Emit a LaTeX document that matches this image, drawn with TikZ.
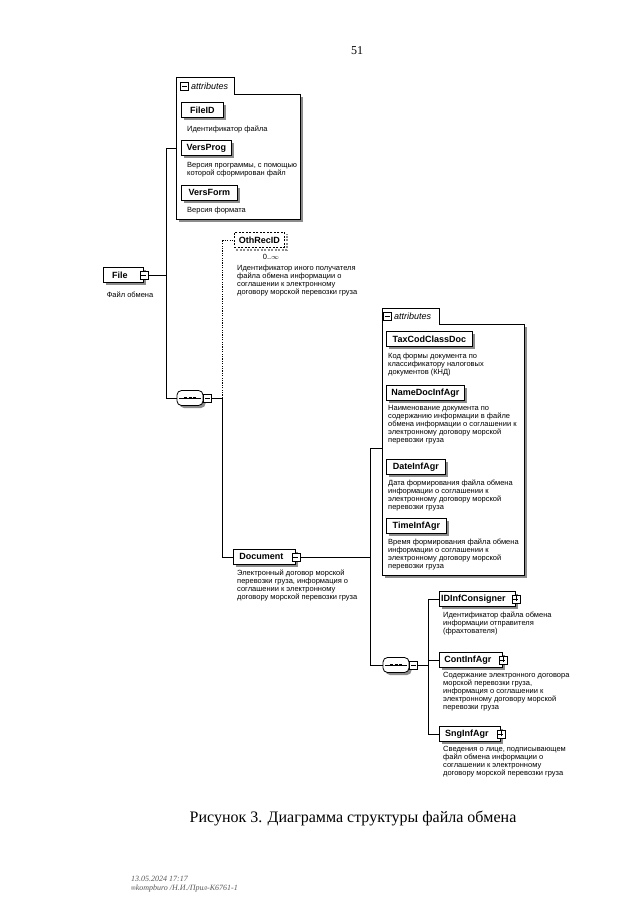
\documentclass[tikz,border=0pt]{standalone}
\usepackage{fontspec}
\setmainfont{Liberation Serif}
\newfontfamily\lsans{Liberation Sans}
\newfontfamily\djv{DejaVu Sans}
\usetikzlibrary{shadows}
\newcommand\mydesc[1]{\parbox[t]{160pt}{\raggedright #1}}
\begin{document}
\begin{tikzpicture}[x=1pt,y=-1pt,
  shad/.style={drop shadow={shadow xshift=2.5pt, shadow yshift=-2.5pt, fill=black!45, opacity=1}},
  elem/.style={draw=black, line width=0.8pt, fill=white, anchor=north west, minimum height=15pt, inner sep=0pt,
    font=\lsans\bfseries\fontsize{9}{10}\selectfont, shad},
  exp/.style={draw=black, fill=white, line width=0.5pt, minimum size=8pt, inner sep=0pt},
  expminus/.style={exp, path picture={\draw[line width=0.6pt] ([xshift=1.5pt]path picture bounding box.west) -- ([xshift=-1.5pt]path picture bounding box.east);}},
  expplus/.style={exp, path picture={\draw[line width=0.6pt] ([xshift=1.5pt]path picture bounding box.west) -- ([xshift=-1.5pt]path picture bounding box.east) ([yshift=1.5pt]path picture bounding box.south) -- ([yshift=-1.5pt]path picture bounding box.north);}},
  seq/.style={draw=black, fill=white, line width=0.8pt, rounded corners=4.5pt,
    minimum width=26pt, minimum height=15pt, inner sep=0pt, shad},
  seqline/.style={line width=0.6pt},
  seqdot/.style={line width=1.8pt},
  attrbody/.style={draw=black, line width=0.8pt, fill=white, anchor=north west, inner sep=0pt, shad},
  attrtab/.style={draw=black, line width=0.8pt, fill=white, anchor=south west, inner sep=0pt},
  attrtxt/.style={anchor=west, inner sep=0pt, font=\lsans\itshape\fontsize{9}{10}\selectfont},
  desc/.style={anchor=base west, inner sep=0pt, font=\lsans\fontsize{7.5}{8}\selectfont},
  conn/.style={line width=0.8pt, black}]
\fill[white] (0,0) rectangle (640,919);
\useasboundingbox (0,0) rectangle (640,919);

% page number
\node[font=\fontsize{12}{14}\selectfont] (pg) at (357,51) {51};

% ---------- top attributes box ----------
\node[attrbody, minimum width=124pt, minimum height=125pt] (attrA) at (176,94) {};
\node[attrtab, minimum width=58pt, minimum height=16pt] (tabA) at (176,94) {};
\draw[white, line width=1.3pt] ([xshift=0.7pt]tabA.south west) -- ([xshift=-0.7pt]tabA.south east);
\node[expminus] (tabAx) at (184,86) {};
\node[attrtxt] (tabAt) at (191,86) {attributes};

\node[elem, minimum width=42pt] (fid) at (181,102) {FileID};
\node[desc] (fidd) at (187,131.5) {\mydesc{Идентификатор файла}};
\node[elem, minimum width=50pt] (vp) at (181,140) {VersProg};
\node[desc] (vpd) at (187,167) {\mydesc{Версия программы, с помощью\\которой сформирован файл}};
\node[elem, minimum width=56pt] (vf) at (181,185) {VersForm};
\node[desc] (vfd) at (187,212.5) {\mydesc{Версия формата}};

% ---------- File ----------
\node[elem, minimum width=40pt] (file) at (103,267) {File\hspace*{7pt}};
\node[expminus] (filex) at (file.east) {};
\node[desc, anchor=base] (filed) at (130,297.5) {Файл обмена};

% ---------- OthRecID ----------
\node[draw=black, line width=0.8pt, dash pattern=on 2pt off 1.5pt, fill=white, anchor=north west, minimum height=15pt, minimum width=50pt, inner sep=0pt,
  font=\lsans\bfseries\fontsize{9}{10}\selectfont] (oth) at (234,232) {OthRecID};
\draw[black!45, line width=1.5pt, dash pattern=on 2pt off 1.5pt] ([shift={(2pt,-2pt)}]oth.south west) -- ([shift={(2pt,-2pt)}]oth.south east) -- ([shift={(2pt,-2pt)}]oth.north east);
\node[desc, anchor=base] (othm) at (271,259.5) {0..$\infty$};
\node[desc] (othd) at (237,270.5) {\mydesc{Идентификатор иного получателя\\файла обмена информации о\\соглашении к электронному\\договору морской перевозки груза}};

% ---------- sequence 1 ----------
\node[seq] (seq1) at (190,398) {};
\node[expminus] (seq1x) at ([xshift=4pt]seq1.east) {};
\draw[seqline] ([xshift=2pt]seq1.west) -- ([xshift=-2pt]seq1.east);
\draw[seqdot] ([xshift=-6pt]seq1.center) -- +(3pt,0) ([xshift=-1.5pt]seq1.center) -- +(3pt,0) ([xshift=3pt]seq1.center) -- +(3pt,0);

% ---------- Document ----------
\node[elem, minimum width=62pt] (doc) at (233,549) {Document\hspace*{6pt}};
\node[expminus] (docx) at (doc.east) {};
\node[desc] (docd) at (237,575.5) {\mydesc{Электронный договор морской\\перевозки груза, информация о\\соглашении к электронному\\договору морской перевозки груза}};

% ---------- middle attributes box ----------
\node[attrbody, minimum width=142pt, minimum height=251pt] (attrB) at (382,324) {};
\node[attrtab, minimum width=57pt, minimum height=15pt] (tabB) at (382,324) {};
\draw[white, line width=1.3pt] ([xshift=0.7pt]tabB.south west) -- ([xshift=-0.7pt]tabB.south east);
\node[expminus] (tabBx) at (387,316.5) {};
\node[attrtxt] (tabBt) at (394,316.5) {attributes};

\node[elem, minimum width=86pt] (tax) at (386,331) {TaxCodClassDoc};
\node[desc] (taxd) at (388,358.5) {\mydesc{Код формы документа по\\классификатору налоговых\\документов (КНД)}};
\node[elem, minimum width=78pt] (ndoc) at (386,385) {NameDocInfAgr};
\node[desc] (ndocd) at (388,410.5) {\mydesc{Наименование документа по\\содержанию информации в файле\\обмена информации о соглашении к\\электронному договору морской\\перевозки груза}};
\node[elem, minimum width=59pt] (dinf) at (386,459) {DateInfAgr};
\node[desc] (dinfd) at (388,485.5) {\mydesc{Дата формирования файла обмена\\информации о соглашении к\\электронному договору морской\\перевозки груза}};
\node[elem, minimum width=60pt] (tinf) at (386,518) {TimeInfAgr};
\node[desc] (tinfd) at (388,544.5) {\mydesc{Время формирования файла обмена\\информации о соглашении к\\электронному договору морской\\перевозки груза}};

% ---------- sequence 2 ----------
\node[seq] (seq2) at (396,665) {};
\node[expminus] (seq2x) at ([xshift=4pt]seq2.east) {};
\draw[seqline] ([xshift=2pt]seq2.west) -- ([xshift=-2pt]seq2.east);
\draw[seqdot] ([xshift=-6pt]seq2.center) -- +(3pt,0) ([xshift=-1.5pt]seq2.center) -- +(3pt,0) ([xshift=3pt]seq2.center) -- +(3pt,0);

\node[elem, minimum width=76pt] (idc) at (439,591) {IDInfConsigner\hspace*{8pt}};
\node[expplus] (idcx) at (idc.east) {};
\node[desc] (idcd) at (443,617.5) {\mydesc{Идентификатор файла обмена\\информации отправителя\\(фрахтователя)}};
\node[elem, minimum width=63pt] (cont) at (439,652) {ContInfAgr\hspace*{6pt}};
\node[expplus] (contx) at (cont.east) {};
\node[desc] (contd) at (443,677.5) {\mydesc{Содержание электронного договора\\морской перевозки груза,\\информация о соглашении к\\электронному договору морской\\перевозки груза}};
\node[elem, minimum width=61pt] (sng) at (439,726) {SngInfAgr\hspace*{6pt}};
\node[expplus] (sngx) at (sng.east) {};
\node[desc] (sngd) at (443,751.5) {\mydesc{Сведения о лице, подписывающем\\файл обмена информации о\\соглашении к электронному\\договору морской перевозки груза}};

% ---------- connectors ----------
\coordinate (busA) at (166,0);
\coordinate (busB) at (222,0);
\coordinate (busC) at (370,0);
\coordinate (busD) at (428,0);
\coordinate (aBj) at (382,448);

\draw[conn] (filex.east) -- (filex.east -| busA);
\draw[conn] (vp.west -| busA) -- (seq1.west -| busA) -- (seq1.west);
\draw[conn] (vp.west -| busA) -- (vp.west -| attrA.west);
\draw[conn] (seq1x.east) -- (seq1x.east -| busB);
\draw[conn, dash pattern=on 1.2pt off 1.2pt] (seq1.east -| busB) -- (oth.west -| busB) -- (oth.west);
\draw[conn] (seq1.east -| busB) -- (doc.west -| busB) -- (doc.west);
\draw[conn] (docx.east) -- (docx.east -| busC);
\draw[conn] (aBj -| busC) -- (seq2.west -| busC) -- (seq2.west);
\draw[conn] (aBj -| busC) -- (aBj);
\draw[conn] (seq2x.east) -- (seq2x.east -| busD);
\draw[conn] (idc.west -| busD) -- (sng.west -| busD);
\draw[conn] (idc.west -| busD) -- (idc.west);
\draw[conn] (cont.west -| busD) -- (cont.west);
\draw[conn] (sng.west -| busD) -- (sng.west);

% ---------- caption and footer ----------
\node[font=\fontsize{16}{19}\selectfont] (cap) at (353,818) {Рисунок 3. Диаграмма структуры файла обмена};
\node[anchor=base west, inner sep=0pt, font=\itshape\fontsize{8}{9}\selectfont, text=black!65] (ft1) at (131,881.5) {13.05.2024 17:17};
\node[anchor=base west, inner sep=0pt, font=\itshape\fontsize{8}{9}\selectfont, text=black!65] (ft2) at (131,890.5) {{\djv\upshape\fontsize{5.5}{6}\selectfont ✉}kompburo /Н.И./Прил-К6761-1};
\end{tikzpicture}
\end{document}
